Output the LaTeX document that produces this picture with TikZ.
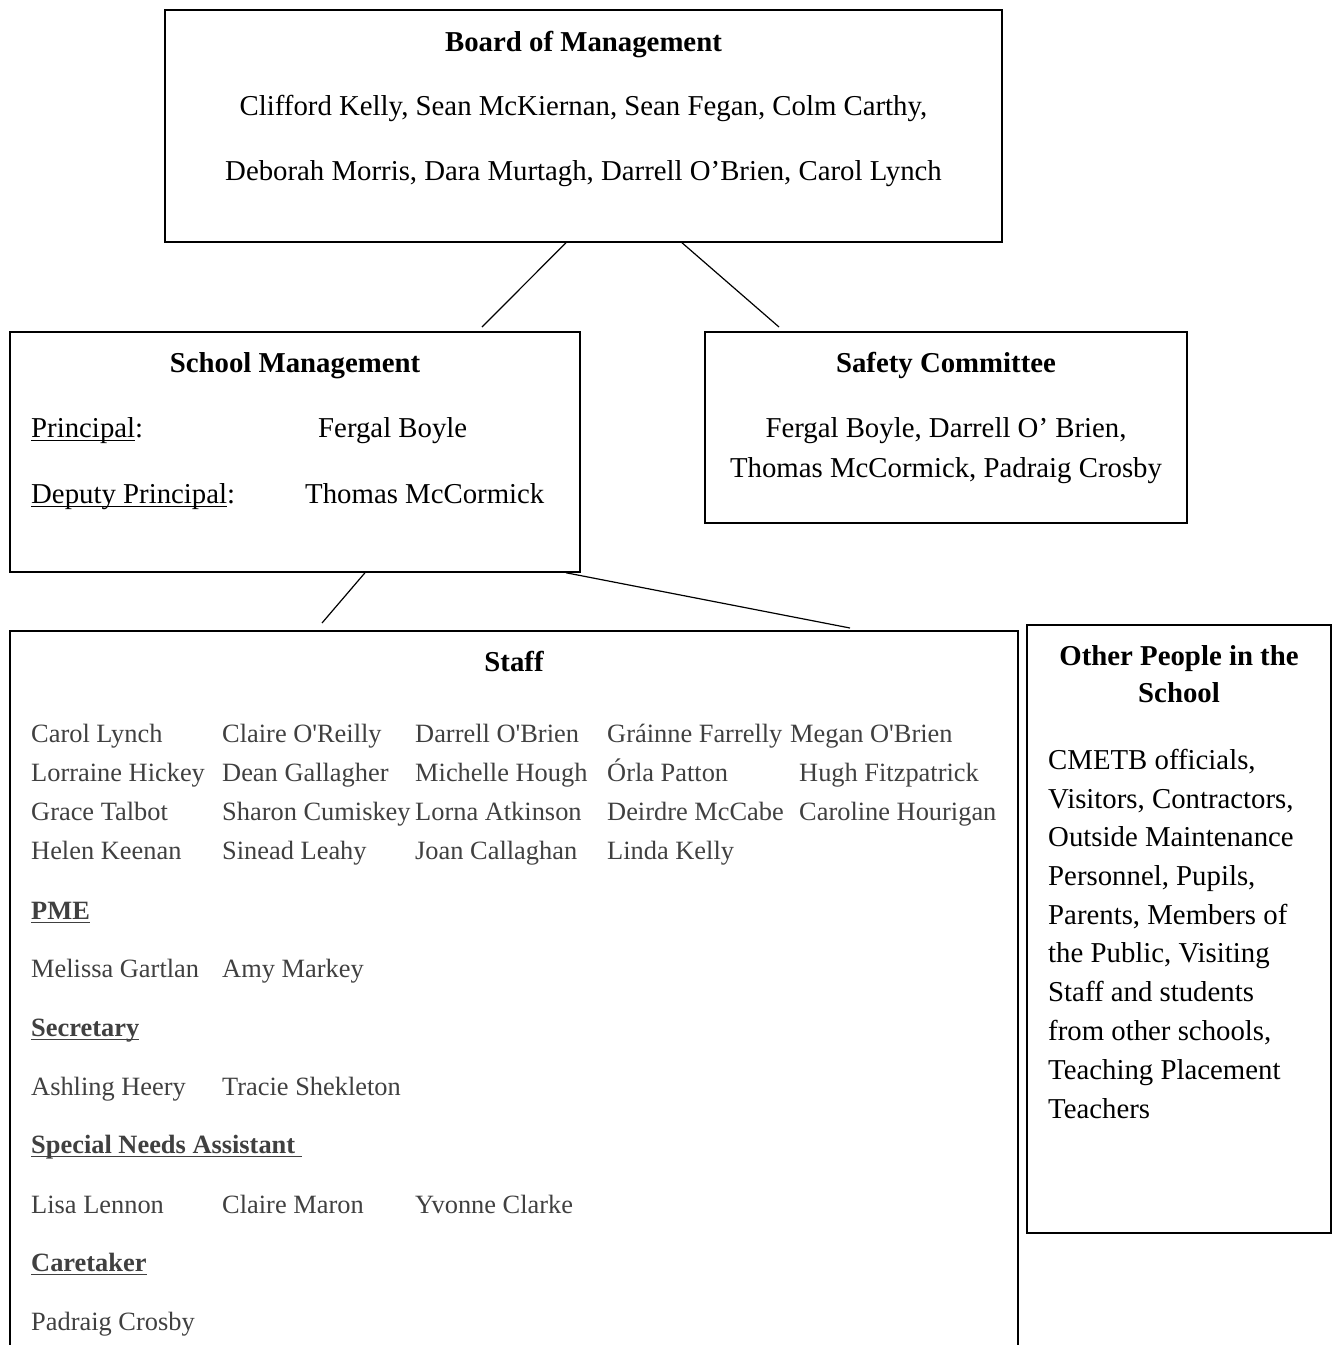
\documentclass[tikz,border=0pt]{standalone}
\usepackage{fontspec}
\setmainfont{Liberation Serif}
\usetikzlibrary{positioning, calc}

\definecolor{staffgray}{RGB}{64,64,64}
\newcommand{\strq}{\textquotesingle}
\newsavebox{\ulbox}
\newcommand{\uln}[1]{\sbox{\ulbox}{#1}\rlap{\rule[-4.2pt]{\wd\ulbox}{1.4pt}}\usebox{\ulbox}}

\tikzset{
  orgbox/.style={draw, line width=1.5pt, inner sep=0pt},
  link/.style={line width=1.2pt},
  bigtxt/.style={font=\fontsize{28.8}{38.8}\selectfont, inner sep=0pt, anchor=base},
  heading/.style={bigtxt, font=\fontsize{28.8}{38.8}\selectfont\bfseries},
  stafftxt/.style={font=\fontsize{26.4}{39}\selectfont, text=staffgray, inner sep=0pt, anchor=base west},
  staffhead/.style={stafftxt, font=\fontsize{26.4}{39}\selectfont\bfseries}
}

\begin{document}
\begin{tikzpicture}[x=1pt, y=-1pt]
\clip (0,0) rectangle (1336,1345);

% boxes
\node[orgbox, minimum width=837pt, minimum height=232pt] (board) at (583.5,126) {};
\node[orgbox, minimum width=570pt, minimum height=240pt] (mgmt) at (295,452) {};
\node[orgbox, minimum width=482pt, minimum height=191pt] (safety) at (946,427.5) {};
\node[orgbox, minimum width=1008pt, minimum height=760pt] (staff) at (514,1011) {};
\node[orgbox, minimum width=304pt, minimum height=608pt] (other) at (1179,929) {};

% loose ends of the links
\coordinate (mgmt-in) at (482,327);
\coordinate (safety-in) at (779,327);
\coordinate (staff-in1) at (322,623);
\coordinate (staff-in2) at (850,628);
\draw[link] ([xshift=-17.5pt]board.south) -- (mgmt-in);
\draw[link] ([xshift=98.5pt]board.south) -- (safety-in);
\draw[link] ([xshift=70pt]mgmt.south) -- (staff-in1);
\draw[link] ([xshift=271pt]mgmt.south) -- (staff-in2);

% board
\node[heading] (board-t) at (583.5,51) {Board of Management};
\node[bigtxt] (board-1) at (583.5,115) {Clifford Kelly, Sean McKiernan, Sean Fegan, Colm Carthy,};
\node[bigtxt] (board-2) at (583.5,180) {Deborah Morris, Dara Murtagh, Darrell O’Brien, Carol Lynch};

% school management
\node[heading] (mgmt-t) at (295,372) {School Management};
\node[bigtxt, anchor=base west] (prin) at (31,437) {\uln{Principal}:};
\node[bigtxt, anchor=base west] (prin-n) at (318,437) {Fergal Boyle};
\node[bigtxt, anchor=base west] (dep) at (31,503) {\uln{Deputy Principal}:};
\node[bigtxt, anchor=base west] (dep-n) at (305,503) {Thomas McCormick};

% safety committee
\node[heading] (safety-t) at (946,372) {Safety Committee};
\node[bigtxt] (safety-1) at (946,437) {Fergal Boyle, Darrell O’ Brien,};
\node[bigtxt] (safety-2) at (946,477) {Thomas McCormick, Padraig Crosby};

% staff
\node[heading] (staff-t) at (514,671) {Staff};
\foreach \x/\who [count=\i] in {31/Carol Lynch, 222/Claire O\strq Reilly, 415/Darrell O\strq Brien, 607/Gráinne Farrelly, 790/Megan O\strq Brien}
  \node[stafftxt] (ra-\i) at (\x,742) {\who};
\foreach \x/\who [count=\i] in {31/Lorraine Hickey, 222/Dean Gallagher, 415/Michelle Hough, 607/Órla Patton, 799/Hugh Fitzpatrick}
  \node[stafftxt] (rb-\i) at (\x,781) {\who};
\foreach \x/\who [count=\i] in {31/Grace Talbot, 222/Sharon Cumiskey, 415/Lorna Atkinson, 607/Deirdre McCabe, 799/Caroline Hourigan}
  \node[stafftxt] (rc-\i) at (\x,820) {\who};
\foreach \x/\who [count=\i] in {31/Helen Keenan, 222/Sinead Leahy, 415/Joan Callaghan, 607/Linda Kelly}
  \node[stafftxt] (rd-\i) at (\x,859) {\who};

\node[staffhead] (pme) at (31,919) {\uln{PME}};
\node[stafftxt] (pme-1) at (31,977) {Melissa Gartlan};
\node[stafftxt] (pme-2) at (222,977) {Amy Markey};
\node[staffhead] (sec) at (31,1036) {\uln{Secretary}};
\node[stafftxt] (sec-1) at (31,1095) {Ashling Heery};
\node[stafftxt] (sec-2) at (222,1095) {Tracie Shekleton};
\node[staffhead] (sna) at (31,1153) {\uln{Special Needs Assistant\ }};
\node[stafftxt] (sna-1) at (31,1213) {Lisa Lennon};
\node[stafftxt] (sna-2) at (222,1213) {Claire Maron};
\node[stafftxt] (sna-3) at (415,1213) {Yvonne Clarke};
\node[staffhead] (care) at (31,1271) {\uln{Caretaker}};
\node[stafftxt] (care-1) at (31,1330) {Padraig Crosby};

% other people
\node[heading] (other-t1) at (1179,665) {Other People in the};
\node[heading] (other-t2) at (1179,702) {School};
\foreach \y/\txt [count=\i] in {769/{CMETB officials,}, 808/{Visitors, Contractors,}, 846/Outside Maintenance, 885/{Personnel, Pupils,}, 924/{Parents, Members of}, 962/{the Public, Visiting}, 1001/Staff and students, 1040/{from other schools,}, 1079/Teaching Placement, 1118/Teachers}
  \node[bigtxt, anchor=base west] (o-\i) at (1048,\y) {\txt};
\end{tikzpicture}
\end{document}
